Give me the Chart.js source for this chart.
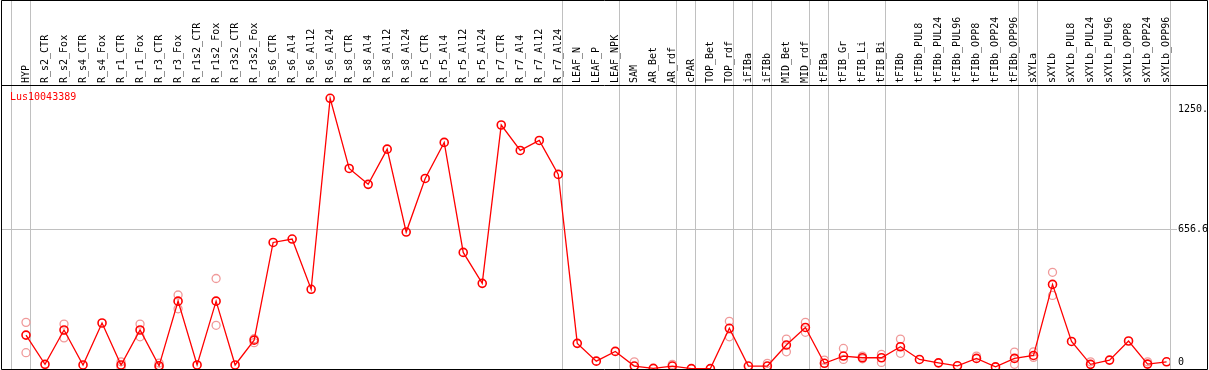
<!DOCTYPE html>
<html>
<head>
<meta charset="utf-8">
<script src="https://cdn.jsdelivr.net/npm/chart.js@4.4.1/dist/chart.umd.min.js"></script>
<style>
  html, body { margin: 0; padding: 0; background: #fff; }
  #wrap { width: 1209px; height: 370px; }
</style>
</head>
<body>
<div id="wrap"><canvas id="chart"></canvas></div>
<script>
// Sample names, left to right
const categories = [
    'HYP', 'R_s2_CTR', 'R_s2_Fox', 'R_s4_CTR', 'R_s4_Fox', 'R_r1_CTR', 'R_r1_Fox',
    'R_r3_CTR', 'R_r3_Fox', 'R_r1s2_CTR', 'R_r1s2_Fox', 'R_r3s2_CTR', 'R_r3s2_Fox',
    'R_s6_CTR', 'R_s6_Al4', 'R_s6_Al12', 'R_s6_Al24', 'R_s8_CTR', 'R_s8_Al4',
    'R_s8_Al12', 'R_s8_Al24', 'R_r5_CTR', 'R_r5_Al4', 'R_r5_Al12', 'R_r5_Al24',
    'R_r7_CTR', 'R_r7_Al4', 'R_r7_Al12', 'R_r7_Al24', 'LEAF_N', 'LEAF_P', 'LEAF_NPK',
    'SAM', 'AR_Bet', 'AR_rdf', 'cPAR', 'TOP_Bet', 'TOP_rdf', 'iFIBa', 'iFIBb',
    'MID_Bet', 'MID_rdf', 'tFIBa', 'tFIB_Gr', 'tFIB_Li', 'tFIB_Bi', 'tFIBb',
    'tFIBb_PUL8', 'tFIBb_PUL24', 'tFIBb_PUL96', 'tFIBb_OPP8', 'tFIBb_OPP24', 'tFIBb_OPP96',
    'sXYLa', 'sXYLb', 'sXYLb_PUL8', 'sXYLb_PUL24', 'sXYLb_PUL96', 'sXYLb_OPP8',
    'sXYLb_OPP24', 'sXYLb_OPP96'
];

// Mean expression (red line)
const meanValues = [
    158, 20, 182, 17, 215, 17, 182, 13, 318, 17, 318, 17, 134,
    595, 611, 374, 1275, 944, 869, 1035, 644, 897, 1067, 548, 402,
    1149, 1029, 1076, 916, 119, 35, 81,
    12, 1, 12, 0, 0, 190, 12, 12, 111, 194,
    25, 59, 51, 51, 103, 43, 27, 13, 48, 8, 48,
    62, 397, 128, 20, 40, 130, 21, 32
];

// Replicates (pale circles), null where hidden under the mean marker
const repHigh = [
    218, null, 210, null, null, 32, 210, 26, 347, null, 425, null, 141,
    null, null, null, null, null, null, null, null, null, null, null, null,
    null, null, null, null, null, null, null,
    32, null, 20, null, null, 223, null, 25, 139, 218,
    40, 95, 59, 67, 139, null, null, null, 59, null, 78,
    79, 454, null, 32, null, null, 32, null
];
const repLow = [
    75, null, 145, null, null, 6, 150, 7, 282, null, 204, null, 122,
    null, null, null, null, null, null, null, null, null, null, null, null,
    null, null, null, null, null, null, null,
    null, null, null, null, null, 150, null, null, 79, 171,
    6, 43, 46, 29, 72, null, null, null, null, null, 20,
    53, 345, null, null, null, null, null, null
];

// Group separators: vertical line drawn after these category indexes
const groupEnds = [-1, 0, 28, 31, 34, 35, 37, 38, 39, 41, 42, 45, 52, 53, 60];

// Y axis ticks and their printed labels
const yTicks = [0, 656.6, 1250];
const yTickLabels = ['0', '656.6', '1250.'];

const seriesName = 'Lus10043389';

const toPoints = arr => arr
    .map((v, i) => ({ x: i, y: v }))
    .filter(p => p.y !== null);

Chart.defaults.font.family = "'DejaVu Sans Mono', monospace";
Chart.defaults.font.size = 10;
Chart.defaults.color = '#000';

// frame, separators and series name
const framePlugin = {
    id: 'frame',
    beforeDraw(chart) {
        const ctx = chart.ctx;
        const x = chart.scales.x;
        ctx.save();
        ctx.fillStyle = '#fff';
        ctx.fillRect(0, 0, chart.width, chart.height);
        ctx.strokeStyle = '#c0c0c0';
        ctx.lineWidth = 1;
        groupEnds.forEach(b => {
            const px = Math.round(x.getPixelForValue(b + 0.185)) + 0.5;
            ctx.beginPath();
            ctx.moveTo(px, 0);
            ctx.lineTo(px, chart.chartArea.bottom);
            ctx.stroke();
        });
        ctx.restore();
    },
    afterDraw(chart) {
        const ctx = chart.ctx;
        const area = chart.chartArea;
        ctx.save();
        ctx.strokeStyle = '#000';
        ctx.lineWidth = 1;
        ctx.beginPath();
        ctx.moveTo(1.5, 0.5);
        ctx.lineTo(1207.5, 0.5);
        ctx.lineTo(1207.5, chart.height - 0.5);
        ctx.lineTo(1.5, chart.height - 0.5);
        ctx.closePath();
        ctx.moveTo(1.5, area.top - 0.5);
        ctx.lineTo(1207.5, area.top - 0.5);
        ctx.stroke();

        ctx.fillStyle = '#ff0000';
        ctx.font = "10px 'DejaVu Sans Mono'";
        ctx.textBaseline = 'middle';
        ctx.fillText(seriesName, area.left + 8, area.top + 11);
        ctx.restore();
    }
};

const paleCircle = {
    type: 'line',
    showLine: false,
    pointRadius: 4,
    pointBorderWidth: 1.3,
    pointBorderColor: '#f09a9a',
    pointBackgroundColor: 'rgba(0,0,0,0)',
    order: 2
};

// keep the axes from pushing the plot area inwards for their end labels
const noEdgePadding = scale => {
    scale.paddingLeft = 0;
    scale.paddingRight = 0;
    scale.paddingTop = 0;
    scale.paddingBottom = 0;
};

new Chart(document.getElementById('chart'), {
    type: 'line',
    data: {
        datasets: [
            {
                label: seriesName,
                data: toPoints(meanValues),
                borderColor: '#ff0000',
                borderWidth: 1.3,
                tension: 0,
                pointRadius: 4,
                pointBorderWidth: 1.6,
                pointBorderColor: '#ff0000',
                pointBackgroundColor: 'rgba(0,0,0,0)',
                order: 0
            },
            Object.assign({ label: 'rep high', data: toPoints(repHigh) }, paleCircle),
            Object.assign({ label: 'rep low', data: toPoints(repLow) }, paleCircle)
        ]
    },
    options: {
        responsive: true,
        maintainAspectRatio: false,
        animation: false,
        devicePixelRatio: 1,
        layout: { autoPadding: false, padding: { left: 2, right: 1, top: 1, bottom: 1 } },
        plugins: { legend: { display: false }, tooltip: { enabled: false } },
        scales: {
            x: {
                type: 'linear',
                position: 'top',
                bounds: 'data',
                min: -1.2625,
                max: 60.18,
                grid: { display: false, drawTicks: false },
                border: { display: false },
                afterBuildTicks: scale => { scale.ticks = categories.map((_, i) => ({ value: i })); },
                afterFit: scale => { scale.height = 85; noEdgePadding(scale); },
                ticks: {
                    autoSkip: false,
                    maxRotation: 90,
                    minRotation: 90,
                    padding: 3,
                    labelOffset: 12,
                    callback: v => categories[v]
                }
            },
            y: {
                type: 'linear',
                position: 'right',
                bounds: 'data',
                min: -2,
                max: 1333,
                border: { display: false },
                grid: {
                    drawTicks: true,
                    tickLength: 7,
                    color: c => (c.tick && c.tick.value === 656.6 ? '#c0c0c0' : 'rgba(0,0,0,0)')
                },
                afterBuildTicks: scale => { scale.ticks = yTicks.map(v => ({ value: v })); },
                afterFit: scale => { scale.width = 38; noEdgePadding(scale); },
                ticks: {
                    padding: 1,
                    callback: v => {
                        const txt = yTickLabels[yTicks.indexOf(v)];
                        if (v === 0) return [txt, ''];
                        if (v === 1250) return ['', txt];
                        return txt;
                    }
                }
            }
        }
    },
    plugins: [framePlugin]
});
</script>
</body>
</html>
